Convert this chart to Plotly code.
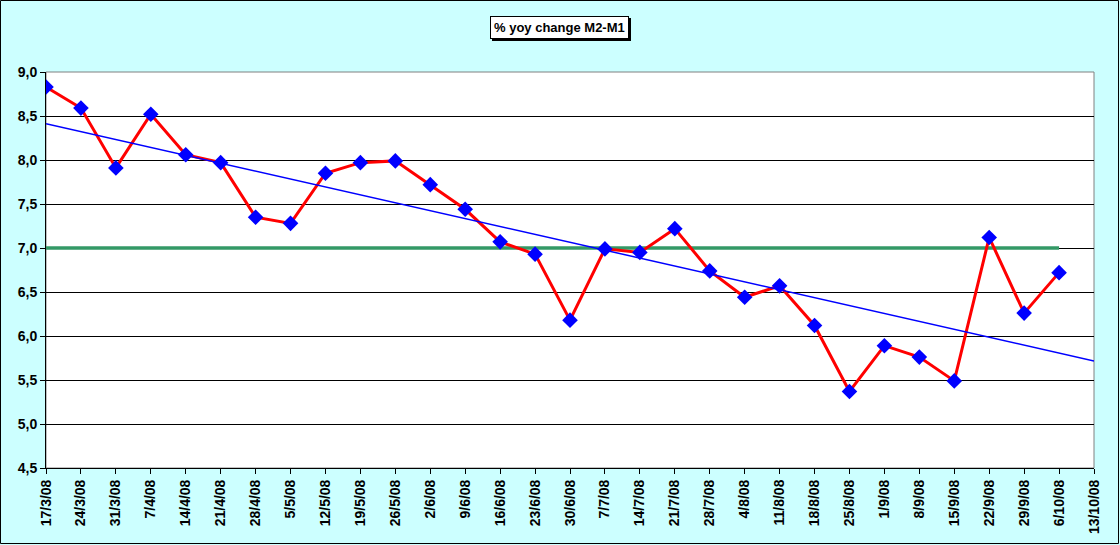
import numpy as np
import plotly.graph_objects as go

# weekly dates (last one has no observation, only the trend reaches it)
weeks = ["17/3/08", "24/3/08", "31/3/08", "7/4/08", "14/4/08", "21/4/08", "28/4/08",
         "5/5/08", "12/5/08", "19/5/08", "26/5/08", "2/6/08", "9/6/08", "16/6/08",
         "23/6/08", "30/6/08", "7/7/08", "14/7/08", "21/7/08", "28/7/08", "4/8/08",
         "11/8/08", "18/8/08", "25/8/08", "1/9/08", "8/9/08", "15/9/08", "22/9/08",
         "29/9/08", "6/10/08", "13/10/08"]

yoy_m2_m1 = [8.83, 8.59, 7.91, 8.52, 8.06, 7.97, 7.35, 7.28, 7.85, 7.97, 7.99, 7.72,
             7.44, 7.07, 6.93, 6.18, 6.99, 6.95, 7.22, 6.74, 6.44, 6.57, 6.12, 5.37,
             5.89, 5.76, 5.49, 7.12, 6.26, 6.72]

reference_level = 7.0

n = len(yoy_m2_m1)
obs_weeks = weeks[:n]
ref_line = [reference_level] * n

# linear trend like excel, extended one period forward
coef = np.polyfit(np.arange(n), yoy_m2_m1, 1)
trend_x = [weeks[0], weeks[-1]]
trend_y = list(np.polyval(coef, [0, len(weeks) - 1]))

W, H = 1120, 545
L, R, T, B = 46, 26, 72, 77
pw, ph = W - L - R, H - T - B

fig = go.Figure()

fig.add_trace(go.Scatter(x=obs_weeks, y=ref_line, mode="lines",
                         line=dict(color="#339966", width=3.5), hoverinfo="skip"))

fig.add_trace(go.Scatter(x=obs_weeks, y=yoy_m2_m1, mode="lines+markers",
                         line=dict(color="#ff0000", width=3),
                         marker=dict(symbol="diamond", size=12, color="#0000ff")))

fig.add_trace(go.Scatter(x=trend_x, y=trend_y, mode="lines",
                         line=dict(color="#0000ff", width=1.5), hoverinfo="skip"))

tickfont = dict(family="Liberation Sans, Arial", size=14, color="black", weight="bold")

fig.update_xaxes(type="category", categoryorder="array", categoryarray=weeks,
                 range=[0, len(weeks) - 1], tickangle=-90, tickfont=tickfont,
                 showgrid=False, showline=True, linecolor="black", linewidth=1,
                 ticks="outside", ticklen=5, tickcolor="black", zeroline=False)

fig.update_yaxes(range=[4.5, 9.0], dtick=0.5, tickformat=".1f", tickfont=tickfont,
                 showgrid=True, gridcolor="black", gridwidth=1,
                 showline=True, linecolor="black", linewidth=1,
                 ticks="outside", ticklen=5, tickcolor="black", zeroline=False)

# grey frame on plot area (top / right), black frame round the whole chart
fig.add_shape(type="rect", xref="paper", yref="paper", x0=0, x1=1, y0=0, y1=1,
              line=dict(color="#808080", width=1), layer="below")
fig.add_shape(type="rect", xref="paper", yref="paper",
              x0=(0.5 - L) / pw, x1=(W - 1.5 - L) / pw,
              y0=-(B - 1.5) / ph, y1=(ph + T - 0.5) / ph,
              line=dict(color="black", width=1))

# title box with shadow, centred on the whole chart
title_x = (W / 2 - 1 - L) / pw
title_y = (ph + T - 27) / ph
for dx, dy, bg in [(2, 2, "black"), (0, 0, "white")]:
    fig.add_annotation(text="<b>% yoy change M2-M1</b>", xref="paper", yref="paper",
                       x=title_x + dx / pw, y=title_y - dy / ph,
                       xanchor="center", yanchor="middle", showarrow=False,
                       font=dict(family="Liberation Sans, Arial", size=13, color="black"),
                       bgcolor=bg, bordercolor="black", borderwidth=1, borderpad=3)

fig.update_layout(width=W, height=H, margin=dict(l=L, r=R, t=T, b=B),
                  paper_bgcolor="#ccffff", plot_bgcolor="white",
                  showlegend=False, separators=",.")

fig.write_html("out.html", config={"displayModeBar": False},
               post_script="document.body.style.margin='0';")
